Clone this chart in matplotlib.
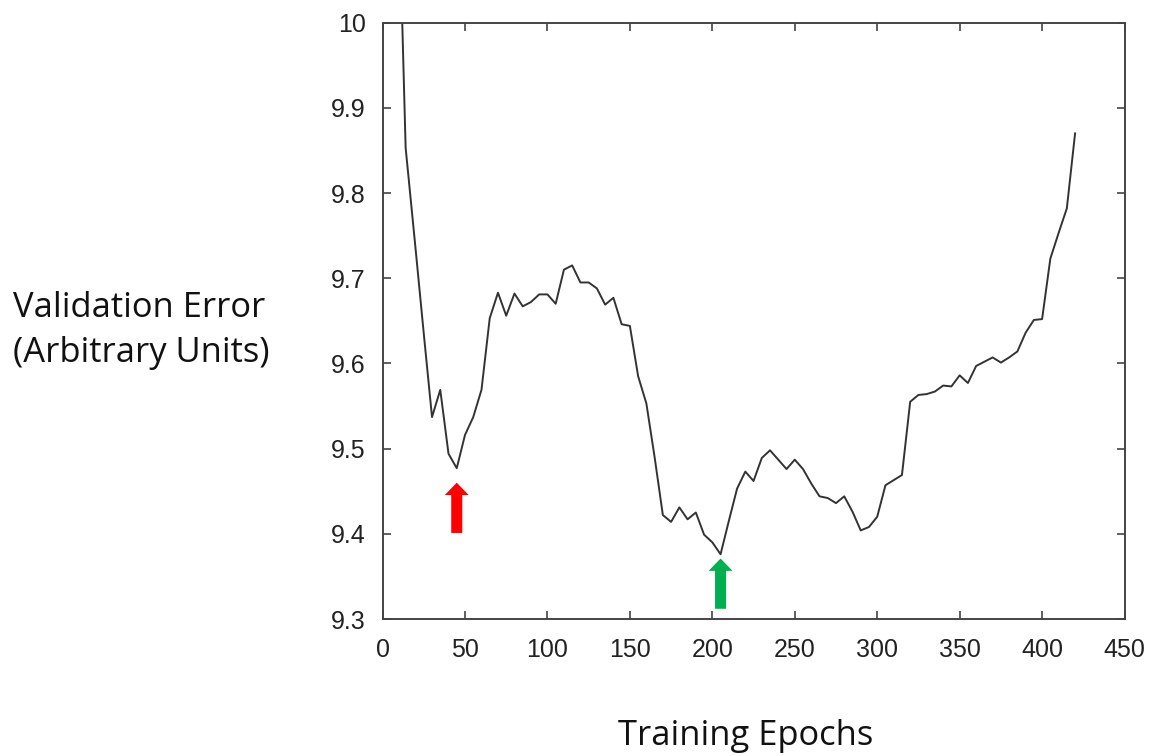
import matplotlib
matplotlib.use("Agg")
from matplotlib import pyplot as plt

# validation error curve
epochs = [10, 14, 20, 25, 30, 35, 40, 45, 50, 55, 60, 65, 70, 75, 80, 85, 90, 95,
          100, 105, 110, 115, 120, 125, 130, 135, 140, 145, 150, 155, 160, 165,
          170, 175, 180, 185, 190, 195, 200, 205, 210, 215, 220, 225, 230, 235,
          240, 245, 250, 255, 260, 265, 270, 275, 280, 285, 290, 295, 300, 305,
          310, 315, 320, 325, 330, 335, 340, 345, 350, 355, 360, 365, 370, 375,
          380, 385, 390, 395, 400, 405, 410, 415, 420]
val_error = [10.14, 9.853, 9.735, 9.635, 9.537, 9.569, 9.494, 9.477, 9.516, 9.537,
             9.569, 9.653, 9.683, 9.656, 9.682, 9.667, 9.672, 9.681, 9.681, 9.670,
             9.710, 9.715, 9.695, 9.695, 9.688, 9.669, 9.677, 9.646, 9.644, 9.585,
             9.553, 9.490, 9.422, 9.414, 9.431, 9.417, 9.425, 9.399, 9.390, 9.376,
             9.415, 9.453, 9.473, 9.462, 9.489, 9.498, 9.487, 9.476, 9.487, 9.476,
             9.459, 9.444, 9.442, 9.436, 9.444, 9.426, 9.404, 9.408, 9.420, 9.457,
             9.463, 9.469, 9.555, 9.563, 9.564, 9.567, 9.574, 9.573, 9.586, 9.577,
             9.597, 9.602, 9.607, 9.601, 9.607, 9.614, 9.636, 9.651, 9.652, 9.723,
             9.753, 9.782, 9.870]

x_ticks = [0, 50, 100, 150, 200, 250, 300, 350, 400, 450]
y_ticks = [9.3, 9.4, 9.5, 9.6, 9.7, 9.8, 9.9, 10]
y_tick_labels = ["9.3", "9.4", "9.5", "9.6", "9.7", "9.8", "9.9", "10"]

# arrows marking the two minima: (epoch, tail, tip, colour)
arrows = [(45, 9.401, 9.460, "#ff0000"),
          (205, 9.312, 9.371, "#00b050")]

fig = plt.figure(figsize=(11.61, 7.56), dpi=100)
ax = fig.add_axes([0.3295, 0.1812, 0.6391, 0.7889])

ax.plot(epochs, val_error, color="#333333", linewidth=1.4)

for x, y0, y1, c in arrows:
    ax.arrow(x, y0, 0, y1 - y0, width=6.7, head_width=14.5, head_length=0.0145,
             length_includes_head=True, color=c, linewidth=0)

ax.set_xlim(0, 450)
ax.set_ylim(9.3, 10)
ax.set_xticks(x_ticks)
ax.set_yticks(y_ticks)
ax.set_yticklabels(y_tick_labels)

for s in ax.spines.values():
    s.set_color("#444444")
    s.set_linewidth(1.4)
ax.tick_params(direction="in", length=6, width=1.2, color="#444444",
               top=True, right=True, labelsize=18, pad=12)
ax.tick_params(axis="x", pad=14)
for lab in ax.get_xticklabels() + ax.get_yticklabels():
    lab.set_family("Liberation Sans")
    lab.set_color("#222222")

fig.text(0.011, 0.563, "Validation Error\n(Arbitrary Units)", ha="left", va="center",
         fontsize=24.8, family="Open Sans", linespacing=1.4, color="#111111")
fig.text(0.642, 0.027, "Training Epochs", ha="center", va="center",
         fontsize=24.8, family="Open Sans", color="#111111")

fig.savefig("out.png", dpi=100)
plt.close(fig)
